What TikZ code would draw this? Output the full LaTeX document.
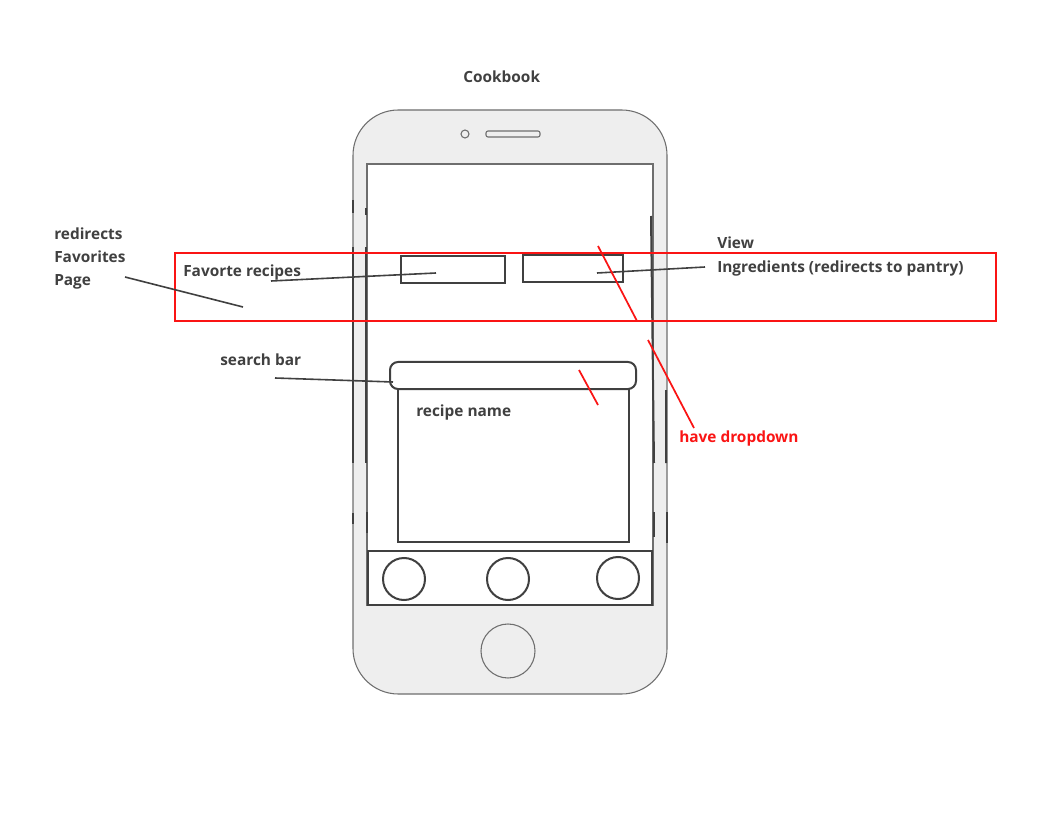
\documentclass[tikz,border=0pt]{standalone}
\usepackage{fontspec}
\setmainfont{Open Sans}
\usetikzlibrary{positioning}
\definecolor{PhoneGray}{RGB}{110,110,110}
\definecolor{PhoneFill}{RGB}{238,238,238}
\definecolor{InkGray}{RGB}{64,64,64}
\definecolor{NoteRed}{RGB}{250,20,20}

\begin{document}
\begin{tikzpicture}[x=0.75pt,y=-0.75pt,
    note/.style={anchor=base west,inner sep=0pt,font=\bfseries\fontsize{11.55}{13}\selectfont,text=InkGray},
    ink/.style={InkGray,line width=1.5pt},
    leader/.style={InkGray,line width=1.2pt},
    redline/.style={NoteRed,line width=1.3pt}]
      \useasboundingbox (0,0) rectangle (1056,816);
      % phone body
      \draw[PhoneGray,fill=PhoneFill,line width=0.8pt,rounded corners=34pt] (353,110) rectangle (667,694);
      \draw[PhoneGray,fill=white,line width=0.8pt] (367,164) rectangle (653,605);
      \draw[PhoneGray,line width=0.8pt] (465,134) circle[radius=4];
      \draw[PhoneGray,line width=0.8pt,rounded corners=1.5pt] (486,131) rectangle (540,137);
      \draw[PhoneGray,line width=0.8pt] (508,651) circle[radius=27];
      % side buttons
      \draw[ink] (353,200)--(353,213) (366,208)--(366,215);
      \draw[ink] (353,247)--(353,463) (366,247)--(366,463);
      \draw[ink] (353,513)--(353,524) (367,512)--(367,533);
      \draw[ink] (651,216)--(654,463) (666,390)--(666,463);
      \draw[ink] (654,512)--(654,537) (667,512)--(667,543);
      % screen parts
      \draw[ink] (401,256) rectangle (505,283);
      \draw[ink] (523,255) rectangle (623,282);
      \draw[ink] (398,389) rectangle (629,542);
      \draw[ink,fill=white,rounded corners=6pt] (390,362) rectangle (636,389);
      \draw[ink] (368,551) rectangle (652,605);
      \foreach \cx/\cy in {404/579,508/579,618/578}
        \draw[ink] (\cx,\cy) circle[radius=21];
      % highlight
      \draw[NoteRed,line width=1.4pt] (175,253) rectangle (996,321);
      % texts
      \node[note] (title) at (463,83) {Cookbook};
      \node[note] (redir1) at (54,240) {redirects};
      \node[note] (redir2) at (54,263) {Favorites};
      \node[note] (redir3) at (54,286) {Page};
      \node[note] (favtext) at (183,277) {Favorte recipes};
      \node[note] (view1) at (717,249) {View};
      \node[note] (view2) at (717,273) {Ingredients (redirects to pantry)};
      \node[note] (searchtext) at (220,366) {search bar};
      \node[note] (recipetext) at (416,416) {recipe name};
      \node[note,text=NoteRed] (droptext) at (679,442) {have dropdown};
      % leaders
      \coordinate (redirA) at (125,277);
      \coordinate (redirB) at (243,307);
      \coordinate (favA) at (271,281);
      \coordinate (favB) at (436,273);
      \coordinate (ingA) at (597,273);
      \coordinate (ingB) at (705,267);
      \coordinate (searchA) at (275,378);
      \coordinate (searchB) at (393,382);
      \draw[leader] (redirA)--(redirB);
      \draw[leader] (favA)--(favB);
      \draw[leader] (ingA)--(ingB);
      \draw[leader] (searchA)--(searchB);
      % dropdown marks
      \coordinate (dropA) at (598,246);
      \coordinate (dropB) at (637,321);
      \coordinate (dropC) at (648,340);
      \coordinate (dropD) at (694,428);
      \coordinate (dropE) at (579,370);
      \coordinate (dropF) at (598,405);
      \draw[redline] (dropA)--(dropB);
      \draw[redline] (dropC)--(dropD);
      \draw[redline] (dropE)--(dropF);
    \end{tikzpicture}
\end{document}
